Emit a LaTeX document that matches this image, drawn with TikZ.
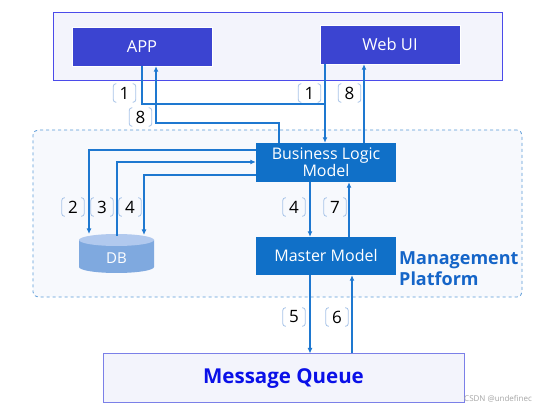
\documentclass[tikz,border=0pt]{standalone}
\usepackage{fontspec}
\setmainfont{Open Sans}
\usetikzlibrary{arrows.meta}
\definecolor{topfill}{HTML}{F3F4FC}
\definecolor{topborder}{HTML}{4B4BEA}
\definecolor{clientfill}{HTML}{3B44D1}
\definecolor{modfill}{HTML}{1070C8}
\definecolor{conncol}{HTML}{1E78D0}
\definecolor{dashcol}{HTML}{5A9AD8}
\definecolor{platfill}{HTML}{F7F9FD}
\definecolor{dbbody}{HTML}{7FA9DF}
\definecolor{dbtop}{HTML}{B1C9EE}
\definecolor{mqborder}{HTML}{7B80E8}
\definecolor{mqtext}{HTML}{0A10E8}
\definecolor{plattext}{HTML}{1565C8}
\definecolor{brkcol}{HTML}{A8C4E8}
\tikzset{
  clientbox/.style={draw=white, fill=clientfill, text=white, inner sep=0pt, font=\fontsize{16.5}{18}\selectfont},
  modbox/.style={fill=modfill, text=white, inner sep=0pt, align=center, font=\fontsize{16}{18}\selectfont},
  conn/.style={draw=conncol, line width=1.2pt},
  arr/.style={conn, -{Latex[length=5.5pt,width=5pt]}},
  lblnode/.style={minimum width=24pt, minimum height=20pt, inner sep=0pt, font=\fontsize{17}{18}\selectfont},
  brk/.style={draw=brkcol, line width=0.8pt, rounded corners=2.5pt},
}
\newcommand\steplbl[3]{%
  \node[lblnode] (#1) at (#2) {#3};
  \draw[brk] ([xshift=4pt,yshift=-1pt]#1.north west) -- ([xshift=1pt,yshift=-1pt]#1.north west) -- ([xshift=1pt,yshift=1pt]#1.south west) -- ([xshift=4pt,yshift=1pt]#1.south west);
  \draw[brk] ([xshift=-4pt,yshift=-1pt]#1.north east) -- ([xshift=-1pt,yshift=-1pt]#1.north east) -- ([xshift=-1pt,yshift=1pt]#1.south east) -- ([xshift=-4pt,yshift=1pt]#1.south east);
}
\begin{document}
\begin{tikzpicture}[x=1pt,y=-1pt]
\useasboundingbox (0,0) rectangle (544,411);
\fill[white] (0,0) rectangle (544,411);
% top client area
\node[draw=topborder, fill=topfill, line width=1pt, minimum width=449pt, minimum height=68pt, inner sep=0pt] (clients) at (277.5,47) {};
\node[clientbox, minimum width=140pt, minimum height=39pt] (app) at (142,46.5) {APP};
\node[clientbox, minimum width=140pt, minimum height=39pt] (web) at (390,44.5) {Web UI};
% management platform
\node[draw=dashcol, dashed, fill=platfill, line width=0.8pt, rounded corners=5pt, minimum width=489pt, minimum height=167pt, inner sep=0pt] (plat) at (277.5,213.5) {};
\node[anchor=north west, text=plattext, font=\bfseries\fontsize{18}{21}\selectfont, align=left, inner sep=0pt] (platlbl) at (399,251) {Management\\Platform};
\node[modbox, minimum width=140pt, minimum height=39pt] (blm) at (326,162.5) {Business Logic\\[-1pt]Model};
\node[modbox, minimum width=140pt, minimum height=38pt] (mm) at (326,256) {Master Model};
% DB cylinder
\fill[dbbody] (79,240) -- (79,267) arc[start angle=180, end angle=360, x radius=37.5pt, y radius=6pt] -- (154,240) -- cycle;
\fill[dbtop] (116.5,240) ellipse[x radius=37.5pt, y radius=6pt];
\node[text=white, font=\fontsize{15}{16}\selectfont, inner sep=0pt] (db) at (116.5,258) {DB};
\coordinate (dbtopc) at (116.5,234);
% message queue
\node[draw=mqborder, fill=topfill, line width=1pt, minimum width=361pt, minimum height=49pt, inner sep=0pt, text=mqtext, font=\bfseries\fontsize{20.5}{24}\selectfont] (mq) at (283.5,378.5) {Message Queue};
% connectors: clients <-> BLM
\coordinate (j1) at (325,104);
\draw[conn] (app.south -| 142,0) |- (j1);
\draw[arr] (web.south -| 325,0) -- (blm.north -| 325,0);
\coordinate (k8) at (156,123);
\draw[arr] (blm.north -| 279,0) |- (k8) -- (app.south -| k8);
\draw[arr] (blm.north -| 364,0) -- (web.south -| 364,0);
% BLM <-> DB
\coordinate (d2) at (89,150);
\draw[arr] (blm.west |- d2) -- (d2) -- (d2 |- dbtopc);
\coordinate (d3) at (117,162);
\draw[arr] (117,236) -- (d3) -- (blm.west |- d3);
\coordinate (d4) at (144,175);
\draw[arr] (blm.west |- d4) -- (d4) -- (d4 |- 0,235);
% BLM <-> MM
\draw[arr] (blm.south -| 310,0) -- (mm.north -| 310,0);
\draw[arr] (mm.north -| 349,0) -- (blm.south -| 349,0);
% MM <-> MQ
\draw[arr] (mm.south -| 310,0) -- (mq.north -| 310,0);
\draw[arr] (mq.north -| 352,0) -- (mm.south -| 352,0);
% labels
\steplbl{l1a}{124.5,93}{1}
\steplbl{l8a}{140.5,117}{8}
\steplbl{l1b}{309.5,93}{1}
\steplbl{l8b}{349.5,93}{8}
\steplbl{l2}{73,207}{2}
\steplbl{l3}{102,207}{3}
\steplbl{l4a}{130,207}{4}
\steplbl{l4b}{294,207}{4}
\steplbl{l7}{335,207}{7}
\steplbl{l5}{294,317}{5}
\steplbl{l6}{337,317}{6}
% watermark
\node[anchor=west, text=black!35, font=\fontsize{8}{9}\selectfont, inner sep=0pt] (wm) at (464,399) {CSDN @undefinec};
\end{tikzpicture}
\end{document}
